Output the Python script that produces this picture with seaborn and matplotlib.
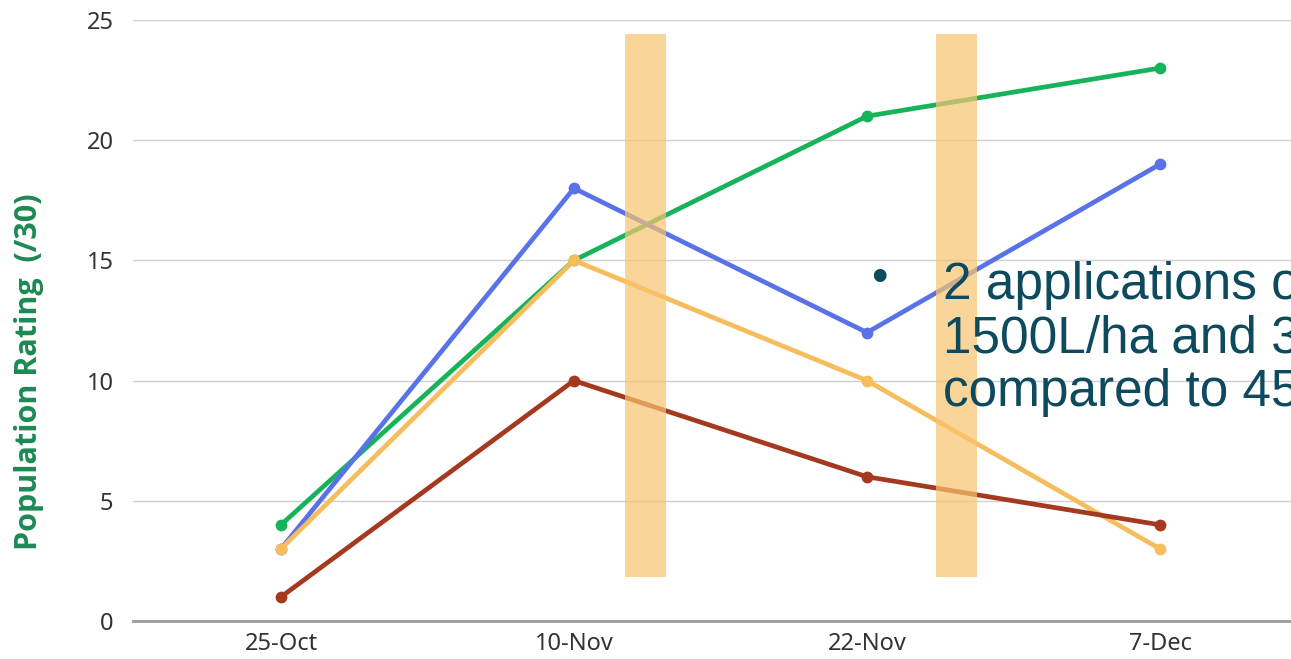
import matplotlib
matplotlib.use("Agg")
import matplotlib.pyplot as plt
import seaborn as sns
import pandas as pd
import numpy as np

dates = ["25-Oct", "10-Nov", "22-Nov", "7-Dec"]
green_vals = [4, 15, 21, 23]
blue_vals = [3, 18, 12, 19]
yellow_vals = [3, 15, 10, 3]
brown_vals = [1, 10, 6, 4]
series_names = ["A", "B", "C", "D"]
series_colors = ["#17b35b", "#5a72e8", "#f6bd5c", "#a5391f"]

# application windows (in date-index units) and their height
spray_starts = [1.175, 2.235]
spray_width = 0.14
spray_low, spray_high = 1.83, 24.4

rows = []
for name, vals in zip(series_names, [green_vals, blue_vals, yellow_vals, brown_vals]):
    for i, v in enumerate(vals):
        rows.append({"series": name, "pos": i, "rating": v})
df = pd.DataFrame(rows)

sns.set_theme(style="white")
plt.rcParams["font.family"] = ["Noto Sans", "DejaVu Sans"]

fig = plt.figure(figsize=(12.91, 6.59), dpi=100)
ax = fig.add_axes([133 / 1291, 38 / 659, 1 - 133 / 1291, (621 - 20) / 659])

ax.grid(axis="y", color="#cfcfcf", linewidth=1.0)
ax.set_axisbelow(True)

sns.lineplot(data=df, x="pos", y="rating", hue="series", hue_order=series_names,
             palette=series_colors, marker="o", markersize=8.5, markeredgewidth=0,
             linewidth=3.4, legend=False, ax=ax, zorder=3)

for s in spray_starts:
    ax.bar(s + spray_width / 2, spray_high - spray_low, bottom=spray_low,
           width=spray_width, color="#f9c46f", alpha=0.7, zorder=4, linewidth=0)

ax.set_xlim(-0.505, 3.447)
ax.set_ylim(0, 25)
ax.set_xticks(range(len(dates)))
ax.set_xticklabels(dates, fontsize=17, color="#333333")
ax.set_yticks([0, 5, 10, 15, 20, 25])
ax.set_yticklabels(["0", "5", "10", "15", "20", "25"], fontsize=17, color="#333333")
ax.tick_params(axis="x", length=0, pad=8)
ax.tick_params(axis="y", length=0, pad=14)
ax.set_xlabel("")
ax.set_ylabel("")

for side in ["top", "right", "left"]:
    ax.spines[side].set_visible(False)
ax.spines["bottom"].set_color("#9a9a9a")
ax.spines["bottom"].set_linewidth(2)

fig.text(29 / 1291, 1 - 372 / 659, "Population Rating  (/30)", fontsize=22,
         fontweight="bold", color="#1c8a55", family="Open Sans",
         rotation=90, ha="center", va="center")

text_color = "#0d4a5e"
fig.text(879 / 1291, 1 - 279 / 659, "\u2022", fontsize=34, color=text_color,
         family="Liberation Sans", va="center", ha="center")
fig.text(943 / 1291, 1 - 406 / 659,
         "2 applications of\n1500L/ha and 3000L/ha\ncompared to 4500L/ha",
         fontsize=37, color=text_color, family="Liberation Sans",
         va="baseline", ha="left", linespacing=1.12)

fig.savefig("out.png", dpi=100)
